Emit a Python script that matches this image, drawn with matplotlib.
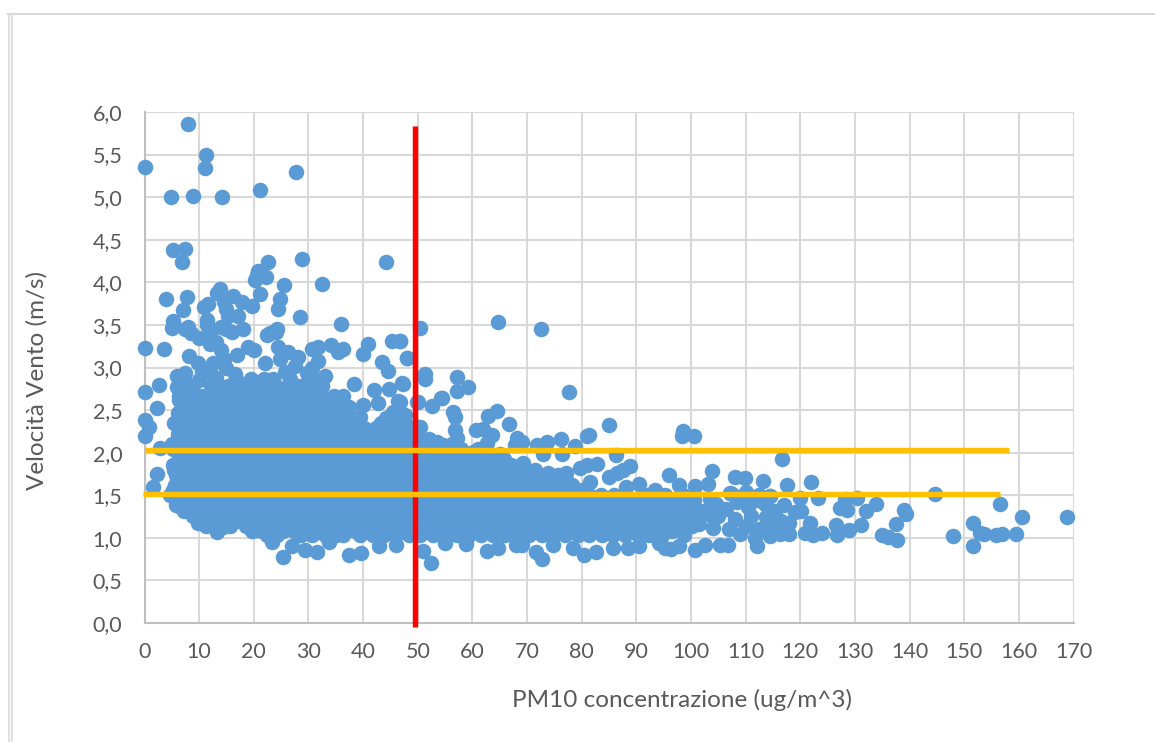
import matplotlib
matplotlib.use("Agg")
import matplotlib.pyplot as plt
from matplotlib.lines import Line2D

# isolated points
top_pm10 = [7.9, 11.2, 0.0, 11.1, 27.7, 21.1, 4.85, 8.8, 14.2, 5.3, 7.5, 6.9, 22.6, 28.9, 44.2, 20.8, 20.5, 20.3, 22.3, 25.5,
            32.4, 13.8, 13.2, 3.9, 7.8, 16.2, 21.1, 24.8, 24.5, 17.8, 19.6, 11.7, 10.9, 14.5, 15.0, 7.1, 28.4, 36.0, 17.2, 5.3,
            11.5, 15.3, 5.0, 7.5, 8.0, 8.5, 10.0, 12.0, 14.0, 15.0, 16.0, 18.0, 23.0, 24.2, 11.5, 13.0, 14.0, 14.5, 8.1, 9.8,
            0.0, 3.6, 36.4, 34.2, 30.6, 31.8, 35.4, 40.9, 46.7, 45.2, 50.5, 64.6, 72.5, 48.0, 40.0, 43.4, 44.6, 38.3, 47.2, 77.7]
top_vento = [5.86, 5.50, 5.35, 5.34, 5.29, 5.09, 5.00, 5.01, 5.00, 4.38, 4.39, 4.24, 4.24, 4.27, 4.24, 4.13, 4.09, 4.03, 4.06, 3.97,
             3.98, 3.92, 3.87, 3.81, 3.83, 3.84, 3.86, 3.80, 3.69, 3.77, 3.72, 3.74, 3.71, 3.77, 3.69, 3.67, 3.59, 3.51, 3.60, 3.55,
             3.56, 3.61, 3.46, 3.45, 3.47, 3.40, 3.35, 3.40, 3.48, 3.45, 3.42, 3.45, 3.40, 3.45, 3.50, 3.30, 3.20, 3.10, 3.13, 3.05,
             3.23, 3.22, 3.22, 3.27, 3.22, 3.24, 3.18, 3.28, 3.31, 3.31, 3.46, 3.53, 3.45, 3.11, 3.16, 3.06, 2.96, 2.81, 2.82, 2.71]

left_pm10 = [0.0, 2.65, 5.9, 7.4, 5.9, 2.3, 0.0, 0.9, 0.0, 2.8, 2.2, 1.5, 6.3, 9.8, 13.2, 14.4, 16.9, 20.5, 23.3, 25.4,
             26.9, 29.4, 31.5, 33.8, 37.4, 39.7, 43.0, 46.1, 51.0, 52.4, 12.0, 14.4, 12.0, 19.0, 24.5, 26.3, 24.8, 22.4, 24.0, 31.8,
             30.6, 29.7, 25.7, 20.0, 17.0, 15.0, 10.0, 9.0, 12.5, 16.5, 22.0, 27.5, 33.0, 28.0, 6.4, 8.2, 10.5, 13.0]
left_vento = [2.71, 2.79, 2.90, 2.93, 2.77, 2.53, 2.38, 2.30, 2.20, 2.06, 1.75, 1.60, 1.37, 1.18, 1.07, 1.13, 1.21, 1.09, 0.95, 0.77,
              0.90, 0.86, 0.83, 0.95, 0.80, 0.82, 0.90, 0.91, 0.84, 0.71, 2.95, 3.09, 3.28, 3.24, 3.24, 3.18, 3.10, 3.38, 3.42, 3.08,
              3.00, 2.93, 2.95, 3.20, 3.15, 3.00, 2.85, 2.70, 3.05, 2.92, 3.05, 3.02, 2.90, 3.12, 2.62, 2.80, 2.95, 2.88]

mid_pm10 = [46.7, 48.0, 51.3, 51.3, 47.3, 57.1, 59.2, 57.1, 49.9, 46.7, 54.2, 52.7, 56.4, 56.8, 64.5, 62.9, 66.7, 56.9, 57.2, 60.6,
            62.0, 63.5, 62.7, 68.1, 69.0, 67.8, 71.9, 73.6, 76.2, 78.8, 72.9, 76.4, 81.4, 81.0, 85.0, 98.6, 98.3, 100.5, 86.2, 51.3,
            53.6, 54.7, 50.1, 60.2, 65.0, 69.3, 82.8, 81.0, 79.7, 88.8, 87.6, 86.4, 85.0, 96.0, 103.9, 103.1, 100.7, 97.8, 108.0, 109.9,
            113.2, 107.1, 110.0, 114.5, 90.5, 93.4, 88.2, 81.5, 77.2, 73.9, 71.1, 40.0, 42.8, 47.7, 37.0, 36.4, 44.0, 50.4, 43.6, 46.4,
            50.0, 54.4, 42.0, 44.8, 39.5, 45.5, 48.5, 41.5]
mid_vento = [3.31, 3.11, 2.92, 2.86, 2.81, 2.89, 2.77, 2.72, 2.60, 2.60, 2.64, 2.55, 2.48, 2.42, 2.49, 2.43, 2.34, 2.27, 2.17, 2.27,
             2.28, 2.21, 2.11, 2.17, 2.12, 2.09, 2.09, 2.12, 2.16, 2.08, 1.98, 1.99, 2.21, 2.19, 2.32, 2.26, 2.19, 2.20, 1.97, 2.11,
             2.12, 2.09, 2.30, 2.01, 1.99, 1.88, 1.87, 1.85, 1.82, 1.84, 1.80, 1.76, 1.71, 1.74, 1.78, 1.63, 1.61, 1.62, 1.71, 1.70,
             1.67, 1.53, 1.54, 1.49, 1.63, 1.56, 1.60, 1.65, 1.76, 1.76, 1.71, 2.56, 2.58, 2.44, 2.50, 2.66, 2.36, 2.30, 2.20, 2.61,
             2.60, 2.64, 2.73, 2.75, 2.42, 2.48, 2.25, 2.15]

low_pm10 = [62.6, 64.6, 67.9, 69.0, 71.6, 72.7, 74.8, 78.4, 80.4, 82.7, 85.7, 88.4, 90.5, 94.2, 95.2, 96.4, 97.8, 100.7, 102.5, 105.3,
            106.8, 112.0, 58.8, 55.0, 116.3]
low_vento = [0.84, 0.88, 0.92, 0.92, 0.83, 0.75, 0.92, 0.88, 0.80, 0.83, 0.88, 0.88, 0.90, 0.94, 0.88, 0.87, 0.90, 0.86, 0.92, 0.92,
             0.92, 0.90, 0.93, 0.94, 1.05]

right_pm10 = [116.7, 117.5, 121.9, 123.3, 119.9, 114.4, 128.1, 130.3, 133.9, 132.1, 127.2, 128.6, 120.2, 139.0, 139.3, 137.6, 131.2, 128.9, 126.5, 126.8,
              121.8, 120.8, 122.4, 123.9, 118.0, 116.0, 134.9, 136.1, 137.7, 144.6, 147.9, 151.6, 151.6, 152.9, 153.6, 155.8, 157.0, 156.5, 159.4, 160.5,
              168.8, 117.0, 115.3, 113.5, 112.0, 110.5, 108.5, 106.5, 104.5, 102.5, 119.0, 116.5, 113.8, 111.0, 108.0, 105.0, 115.0, 112.5, 110.0, 107.0,
              104.0, 101.5, 118.0, 114.5, 111.8, 109.0, 112.5, 110.2, 107.5, 103.5, 100.5]
right_vento = [1.92, 1.62, 1.65, 1.47, 1.47, 1.49, 1.46, 1.47, 1.40, 1.32, 1.35, 1.33, 1.32, 1.33, 1.28, 1.16, 1.15, 1.09, 1.15, 1.03,
               1.18, 1.06, 1.03, 1.06, 1.05, 1.07, 1.03, 1.01, 0.97, 1.52, 1.02, 1.18, 0.90, 1.06, 1.04, 1.03, 1.05, 1.40, 1.04, 1.24,
               1.24, 1.38, 1.32, 1.40, 1.44, 1.36, 1.42, 1.34, 1.40, 1.32, 1.30, 1.20, 1.24, 1.26, 1.22, 1.26, 1.12, 1.10, 1.14, 1.10,
               1.12, 1.16, 1.18, 1.02, 1.00, 1.04, 1.50, 1.48, 1.52, 1.46, 1.44]

# solid mass of overlapping points, read band by band
band_vento = [2.72, 2.60, 2.47, 2.35, 2.22, 2.10, 1.98, 1.86, 1.74, 1.62, 1.50, 1.38, 1.26, 1.14, 1.03]
band_pm10 = [
    [14.1, 16.3, 18.4, 20.6, 22.9, 25.0, 27.2, 29.1],
    [7.2, 9.3, 11.6, 13.8, 15.9, 18.2, 20.3, 22.5, 24.8, 26.9, 29.2, 31.3, 33.6],
    [6.1, 8.2, 10.5, 12.7, 14.8, 17.1, 19.2, 21.4, 23.7, 25.8, 28.1, 30.2, 32.5, 34.6, 36.9],
    [5.4, 7.3, 9.4, 11.6, 13.7, 16.0, 18.1, 20.3, 22.6, 24.7, 27.0, 29.1, 31.4, 33.5, 35.8, 37.9, 43.2, 45.4, 47.6],
    [6.2, 8.4, 10.5, 12.8, 14.9, 17.1, 19.4, 21.5, 23.8, 25.9, 28.2, 30.3, 32.6, 34.7, 37.0, 39.1, 41.3, 43.6, 45.7, 48.0, 50.1],
    [5.1, 7.3, 9.4, 11.7, 13.8, 16.0, 18.3, 20.4, 22.7, 24.8, 27.1, 29.2, 31.5, 33.6, 35.9, 38.0, 40.2, 42.5, 44.6, 46.9, 49.0, 51.6, 56.2],
    [6.3, 8.5, 10.6, 12.9, 15.0, 17.2, 19.5, 21.6, 23.9, 26.0, 28.3, 30.4, 32.7, 34.8, 37.1, 39.2, 41.4, 43.7, 45.8, 48.1, 50.2, 52.5, 54.6, 56.9, 59.1, 61.3],
    [5.2, 7.4, 9.5, 11.8, 13.9, 16.1, 18.4, 20.5, 22.8, 24.9, 27.2, 29.3, 31.6, 33.7, 36.0, 38.1, 40.3, 42.6, 44.7, 47.0, 49.1, 51.4, 53.5, 55.8, 58.0, 60.2, 62.4, 64.7, 67.0],
    [5.8, 8.4, 10.6, 12.9, 15.0, 17.2, 19.5, 21.6, 23.9, 26.0, 28.3, 30.4, 32.7, 34.8, 37.1, 39.2, 41.4, 43.7, 45.8, 48.1, 50.2, 52.5, 54.6, 56.9, 59.1, 61.3, 63.6, 65.7, 68.0, 70.1, 72.3, 75.6],
    [5.6, 7.7, 9.8, 12.1, 14.2, 16.4, 18.7, 20.8, 23.1, 25.2, 27.5, 29.6, 31.9, 34.0, 36.3, 38.4, 40.6, 42.9, 45.0, 47.3, 49.4, 51.7, 53.8, 56.1, 58.3, 60.5, 62.8, 64.9, 67.2, 69.3, 71.5, 73.8, 75.9, 78.3],
    [4.6, 6.5, 8.7, 10.9, 13.1, 15.3, 17.5, 19.8, 21.9, 24.2, 26.3, 28.6, 30.7, 33.0, 35.1, 37.4, 39.5, 41.7, 44.0, 46.1, 48.4, 50.5, 52.8, 54.9, 57.2, 59.4, 61.6, 63.9, 66.0, 68.3, 70.4, 72.6, 74.9, 77.0, 79.3, 81.4, 83.6, 85.9, 92.0, 95.3, 98.5],
    [5.8, 7.7, 9.8, 12.0, 14.2, 16.4, 18.6, 20.9, 23.0, 25.3, 27.4, 29.7, 31.8, 34.1, 36.2, 38.5, 40.6, 42.8, 45.1, 47.2, 49.5, 51.6, 53.9, 56.0, 58.3, 60.5, 62.7, 65.0, 67.1, 69.4, 71.5, 73.7, 76.0, 78.1, 80.4, 82.5, 84.7, 87.0, 89.1, 91.4, 93.5, 95.8, 97.9, 100.1],
    [8.8, 10.9, 13.1, 15.3, 17.5, 19.7, 22.0, 24.1, 26.4, 28.5, 30.8, 32.9, 35.2, 37.3, 39.6, 41.7, 43.9, 46.2, 48.3, 50.6, 52.7, 55.0, 57.1, 59.4, 61.6, 63.8, 66.1, 68.2, 70.5, 72.6, 74.8, 77.1, 79.2, 81.5, 83.6, 85.8, 88.1, 90.2, 92.5, 94.6, 96.9, 99.0, 101.2, 103.8],
    [11.2, 15.6, 18.6, 20.8, 23.1, 25.2, 27.5, 29.6, 31.9, 34.0, 36.3, 38.4, 40.7, 42.8, 45.0, 47.3, 49.4, 51.7, 53.8, 56.1, 58.2, 60.5, 62.7, 64.9, 67.2, 69.3, 71.6, 73.7, 75.9, 78.2, 80.3, 82.6, 84.7, 86.9, 89.2, 91.3, 93.6, 95.7, 98.0, 100.1],
    [22.5, 24.3, 28.6, 30.7, 33.0, 35.1, 36.4, 39.5, 41.8, 43.9, 46.1, 48.4, 50.5, 52.8, 54.9, 57.2, 59.3, 61.6, 63.8, 66.0, 68.3, 70.4, 72.7, 74.8, 77.0, 79.3, 81.4, 83.7, 85.8, 88.0, 90.3, 92.4, 94.7, 98.8],
]

# second pass of bands, between the first ones, closes the gaps in the mass
fill_vento = [2.86, 2.78, 2.66, 2.54, 2.41, 2.29, 2.16, 2.04, 1.92, 1.80, 1.68, 1.56, 1.44, 1.32, 1.20, 1.08]
fill_pm10 = [
    [16.8, 19.4, 21.9, 23.6, 26.6, 30.8],
    [8.4, 12.2, 15.2, 17.4, 19.6, 21.8, 24.1, 26.3, 28.5, 30.6, 32.4],
    [6.3, 8.3, 10.4, 12.8, 15.1, 17.0, 19.4, 21.5, 23.8, 25.9, 28.0, 30.3, 32.4, 34.7],
    [6.9, 9.0, 11.3, 13.4, 15.6, 17.9, 20.0, 22.3, 24.4, 26.7, 28.8, 31.1, 33.2, 35.5, 37.4],
    [6.3, 8.4, 10.7, 12.8, 15.0, 17.3, 19.4, 21.7, 23.8, 26.1, 28.2, 30.5, 32.6, 34.9, 37.0, 38.6, 44.2, 46.4],
    [7.2, 9.5, 11.6, 13.9, 16.0, 18.2, 20.5, 22.6, 24.9, 27.0, 29.3, 31.4, 33.7, 35.8, 38.1, 40.2, 42.4, 44.7, 46.8, 49.1],
    [6.1, 8.3, 10.4, 12.7, 14.8, 17.1, 19.2, 21.4, 23.7, 25.8, 28.1, 30.2, 32.5, 34.6, 36.9, 39.0, 41.3, 43.5, 45.7, 48.0, 50.1, 52.0],
    [5.2, 7.4, 9.5, 11.8, 13.9, 16.1, 18.4, 20.5, 22.8, 24.9, 27.2, 29.3, 31.6, 33.7, 36.0, 38.1, 40.3, 42.6, 44.7, 47.0, 49.1, 51.4, 53.5, 55.8, 58.0, 61.0],
    [6.3, 8.5, 10.6, 12.9, 15.0, 17.2, 19.5, 21.6, 23.9, 26.0, 28.3, 30.4, 32.7, 34.8, 37.1, 39.2, 41.4, 43.7, 45.8, 48.1, 50.2, 52.5, 54.6, 56.9, 59.1, 61.3, 63.6, 65.7],
    [5.4, 7.4, 9.5, 11.8, 13.9, 16.1, 18.4, 20.5, 22.8, 24.9, 27.2, 29.3, 31.6, 33.7, 36.0, 38.1, 40.3, 42.6, 44.7, 47.0, 49.1, 51.4, 53.5, 55.8, 58.0, 60.2, 62.4, 64.7, 66.9, 69.1, 71.4],
    [6.3, 8.5, 10.6, 12.9, 15.0, 17.2, 19.5, 21.6, 23.9, 26.0, 28.3, 30.4, 32.7, 34.8, 37.1, 39.2, 41.4, 43.7, 45.8, 48.1, 50.2, 52.5, 54.6, 56.9, 59.1, 61.3, 63.6, 65.7, 68.0, 70.1, 72.3, 74.6, 77.2],
    [5.3, 7.5, 9.6, 11.9, 14.0, 16.2, 18.5, 20.6, 22.9, 25.0, 27.3, 29.4, 31.7, 33.8, 36.1, 38.2, 40.4, 42.7, 44.8, 47.1, 49.2, 51.5, 53.6, 55.9, 58.1, 60.3, 62.6, 64.7, 67.0, 69.1, 71.3, 73.6, 75.7, 78.0, 80.1],
    [5.9, 8.1, 10.2, 12.5, 14.6, 16.8, 19.1, 21.2, 23.5, 25.6, 27.9, 30.0, 32.3, 34.4, 36.7, 38.8, 41.0, 43.3, 45.4, 47.7, 49.8, 52.1, 54.2, 56.5, 58.7, 60.9, 63.2, 65.3, 67.6, 69.7, 71.9, 74.2, 76.3, 78.6, 80.7, 82.9, 85.2, 87.3, 89.6, 91.7, 94.0, 96.1],
    [7.3, 9.2, 11.3, 13.6, 15.7, 17.9, 20.2, 22.3, 24.6, 26.7, 29.0, 31.1, 33.4, 35.5, 37.8, 39.9, 42.1, 44.4, 46.5, 48.8, 50.9, 53.2, 55.3, 57.6, 59.8, 62.0, 64.3, 66.4, 68.7, 70.8, 73.0, 75.3, 77.4, 79.7, 81.8, 84.0, 86.3, 88.4, 90.7, 92.8, 95.1, 97.2, 99.4, 101.8],
    [10.1, 12.5, 14.8, 17.0, 19.3, 21.4, 23.7, 25.8, 28.1, 30.2, 32.5, 34.6, 36.9, 39.0, 41.2, 43.5, 45.6, 47.9, 50.0, 52.3, 54.4, 56.7, 58.9, 61.1, 63.4, 65.5, 67.8, 69.9, 72.1, 74.4, 76.5, 78.8, 80.9, 83.1, 85.4, 87.5, 89.8, 91.9, 94.2, 96.3, 98.6],
    [19.6, 21.5, 25.4, 27.4, 29.7, 31.8, 34.1, 36.2, 38.5, 40.6, 42.8, 45.1, 47.2, 49.5, 51.6, 53.9, 56.0, 58.2, 60.5, 62.7, 65.0, 67.1, 69.4, 71.5, 73.7, 76.0, 78.1, 80.4, 82.5, 84.7, 87.0, 89.1, 91.4, 93.5, 96.6],
]

# reference lines added by hand in the original chart
limite_pm10 = 49.55
limite_vento_y = [5.84, -0.05]
media_vento = [2.03, 1.52]
media_pm10_x = [[0.1, 158.2], [-0.3, 156.5]]

x_ticks = list(range(0, 171, 10))
y_ticks = [0.0, 0.5, 1.0, 1.5, 2.0, 2.5, 3.0, 3.5, 4.0, 4.5, 5.0, 5.5, 6.0]
y_labels = [f"{v:.1f}".replace(".", ",") for v in y_ticks]

plt.rcParams["font.family"] = ["Lato", "DejaVu Sans"]

fig = plt.figure(figsize=(11.55, 7.42), dpi=100)
ax = fig.add_axes([144.5 / 1155, 1 - 623 / 742, 929 / 1155, 511 / 742])

# every band row is expanded to x, y pairs
xs = top_pm10 + left_pm10 + mid_pm10 + low_pm10 + right_pm10
ys = top_vento + left_vento + mid_vento + low_vento + right_vento
for v, row in list(zip(band_vento, band_pm10)) + list(zip(fill_vento, fill_pm10)):
    xs = xs + row
    ys = ys + [v] * len(row)

ax.scatter(xs, ys, s=125, color="#5B9BD5", linewidths=0, clip_on=False, zorder=3)

ax.plot([limite_pm10, limite_pm10], limite_vento_y, color="#FF0000", lw=3.9, solid_capstyle="butt", clip_on=False, zorder=4)
for v, r in zip(media_vento, media_pm10_x):
    ax.plot(r, [v, v], color="#FFC000", lw=3.9, solid_capstyle="butt", clip_on=False, zorder=5)

ax.set_xlim(0, 170)
ax.set_ylim(0, 6)
ax.set_xticks(x_ticks)
ax.set_yticks(y_ticks)
ax.set_yticklabels(y_labels)
ax.grid(True, color="#D9D9D9", lw=1.5, zorder=0)
ax.set_axisbelow(True)
ax.tick_params(length=0, labelsize=15.5, labelcolor="#595959")
ax.tick_params(axis="x", pad=14)
ax.tick_params(axis="y", pad=16)
for s in ["top", "right"]:
    ax.spines[s].set_visible(False)
for s in ["left", "bottom"]:
    ax.spines[s].set_color("#BFBFBF")
    ax.spines[s].set_linewidth(1.5)

ax.set_xlabel("PM10 concentrazione (ug/m^3)", fontsize=17.5, color="#595959", va="center")
ax.set_ylabel("Velocità Vento (m/s)", fontsize=17.5, color="#595959", va="center")
ax.xaxis.set_label_coords(0.5786, -0.151)
ax.yaxis.set_label_coords(-0.1157, 0.4736)

# double border of the pasted chart
for x in [8.5 / 1155, 11.5 / 1155]:
    fig.add_artist(Line2D([x, x], [0, 1 - 14 / 742], color="#D9D9D9", lw=1.2))
fig.add_artist(Line2D([8 / 1155, 1], [1 - 14 / 742, 1 - 14 / 742], color="#D9D9D9", lw=1.5))

fig.savefig("out.png", dpi=100)
